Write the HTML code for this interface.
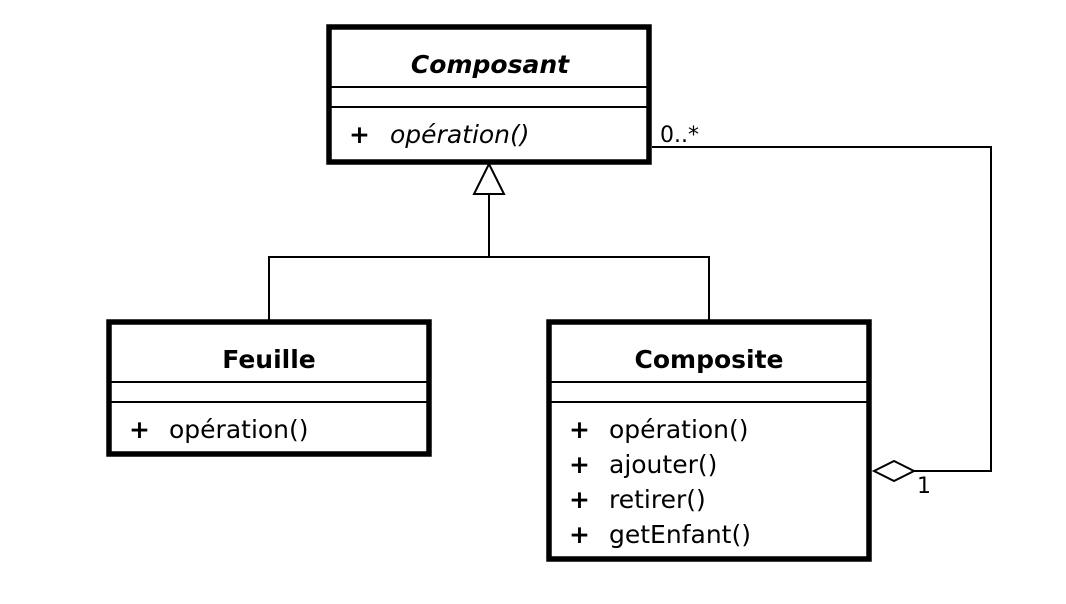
<!DOCTYPE html>
<html><head><meta charset="utf-8"><style>
html,body{margin:0;padding:0;background:#fff;}
svg{display:block;}
text{font-family:"DejaVu Sans","Liberation Sans",sans-serif;fill:#000;}
</style></head><body>
<svg width="1066" height="604" viewBox="0 0 1066 604" xmlns="http://www.w3.org/2000/svg">
<rect width="1066" height="604" fill="#fff"/>
<!-- Composant -->
<rect x="329" y="27" width="320" height="135" fill="#fff" stroke="#000" stroke-width="5.5"/>
<line x1="329" y1="87" x2="649" y2="87" stroke="#000" stroke-width="2"/>
<line x1="329" y1="107" x2="649" y2="107" stroke="#000" stroke-width="2"/>
<text x="490" y="73" font-size="25" font-weight="bold" font-style="italic" text-anchor="middle">Composant</text>
<text x="349" y="143" font-size="25" font-weight="bold">+</text>
<text x="390" y="143" font-size="25" font-style="italic">opération()</text>
<!-- Feuille -->
<rect x="109" y="322" width="320" height="132" fill="#fff" stroke="#000" stroke-width="5.5"/>
<line x1="109" y1="382" x2="429" y2="382" stroke="#000" stroke-width="2"/>
<line x1="109" y1="402" x2="429" y2="402" stroke="#000" stroke-width="2"/>
<text x="269" y="368" font-size="25" font-weight="bold" text-anchor="middle">Feuille</text>
<text x="129" y="438" font-size="25" font-weight="bold">+</text>
<text x="169" y="438" font-size="25">opération()</text>
<!-- Composite -->
<rect x="549" y="322" width="320" height="237" fill="#fff" stroke="#000" stroke-width="5.5"/>
<line x1="549" y1="382" x2="869" y2="382" stroke="#000" stroke-width="2"/>
<line x1="549" y1="402" x2="869" y2="402" stroke="#000" stroke-width="2"/>
<text x="709" y="368" font-size="25" font-weight="bold" text-anchor="middle">Composite</text>
<g font-size="25">
<text x="569" y="438" font-weight="bold">+</text><text x="609" y="438">opération()</text>
<text x="569" y="473" font-weight="bold">+</text><text x="609" y="473">ajouter()</text>
<text x="569" y="508" font-weight="bold">+</text><text x="609" y="508">retirer()</text>
<text x="569" y="543" font-weight="bold">+</text><text x="609" y="543">getEnfant()</text>
</g>
<!-- Generalization -->
<polyline points="269,322 269,257 709,257 709,322" fill="none" stroke="#000" stroke-width="2"/>
<line x1="489" y1="257" x2="489" y2="194" stroke="#000" stroke-width="2"/>
<polygon points="489,164 474,194 504,194" fill="#fff" stroke="#000" stroke-width="2"/>
<!-- Aggregation -->
<polyline points="652,147 991,147 991,471 914,471" fill="none" stroke="#000" stroke-width="2"/>
<polygon points="874,471 894,461 914,471 894,481" fill="#fff" stroke="#000" stroke-width="2"/>
<text x="660" y="142" font-size="22">0..*</text>
<text x="917" y="493" font-size="22">1</text>
</svg>
</body></html>
